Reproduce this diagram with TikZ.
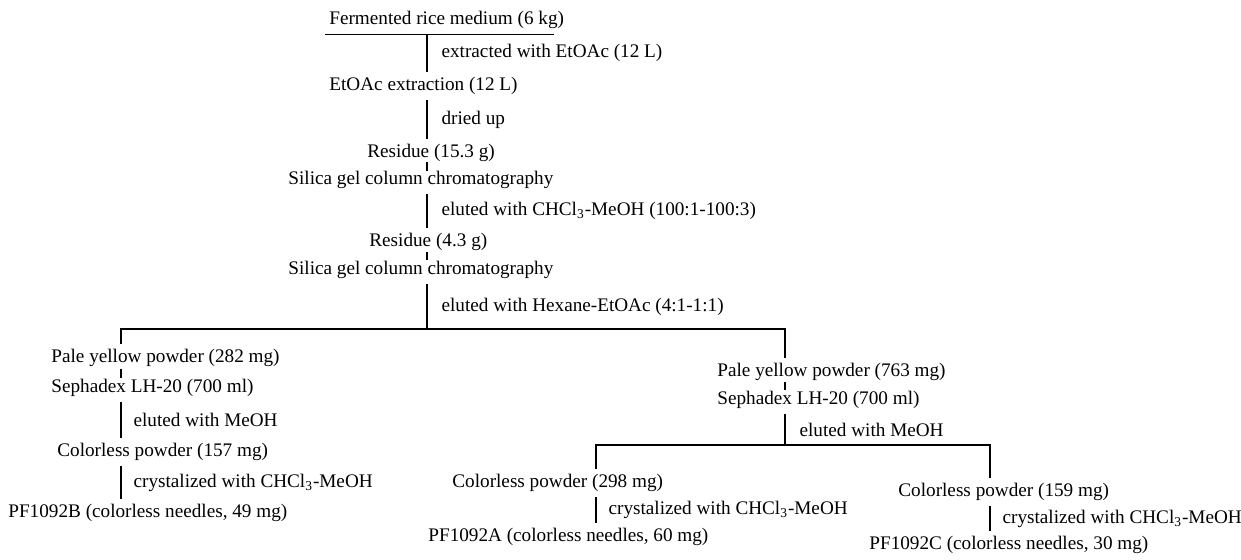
\documentclass[tikz,border=0pt]{standalone}
\usepackage{fontspec}
\setmainfont{Liberation Serif}
\usetikzlibrary{positioning, calc}

\begin{document}
\begin{tikzpicture}[
  x=0.5pt, y=-0.5pt,
  stage/.style = {anchor=west, inner xsep=0pt, inner ysep=2.5pt, font=\fontsize{9.6}{11.5}\selectfont},
  cond/.style  = {anchor=west, inner sep=0pt, xshift=7pt, font=\fontsize{9.6}{11.5}\selectfont},
  link/.style  = {line width=0.6pt},
  tick/.style  = {line width=0.6pt, shorten <=-1.8pt, shorten >=-1.8pt}
]
  \useasboundingbox (0,0) rectangle (1241,559);

  % main column
  \node[stage] (ferm) at (329,20)  {Fermented rice medium (6 kg)};
  \node[stage] (extr) at (329,86)  {EtOAc extraction (12 L)};
  \node[stage] (res1) at (367,153) {Residue (15.3 g)};
  \node[stage] (sil1) at (288,180) {Silica gel column chromatography};
  \node[stage] (res2) at (369,242) {Residue (4.3 g)};
  \node[stage] (sil2) at (288,270) {Silica gel column chromatography};

  \coordinate (spine) at (427,0);
  \coordinate (brL) at (121,329);
  \coordinate (brR) at (785,329);

  % left branch
  \node[stage] (pale1)  at (51,358) {Pale yellow powder (282 mg)};
  \node[stage] (seph1)  at (51,388) {Sephadex LH-20 (700 ml)};
  \node[stage] (col157) at (57,452) {Colorless powder (157 mg)};
  \node[stage] (pfB)    at (8,513)  {PF1092B (colorless needles, 49 mg)};

  % right branch
  \node[stage] (pale2)  at (717,372) {Pale yellow powder (763 mg)};
  \node[stage] (seph2)  at (717,400) {Sephadex LH-20 (700 ml)};
  \coordinate (sub)  at (785,445);
  \coordinate (subL) at (596,445);
  \coordinate (subR) at (990,445);
  \node[stage] (col298) at (452,483) {Colorless powder (298 mg)};
  \node[stage] (pfA)    at (428,537) {PF1092A (colorless needles, 60 mg)};
  \node[stage] (col159) at (898,492) {Colorless powder (159 mg)};
  \node[stage] (pfC)    at (869,545) {PF1092C (colorless needles, 30 mg)};

  % underline of the start material
  \draw[link] ($(ferm.south west)+(-4,0)$) -- ($(ferm.south east)+(-10,0)$);

  % main column links
  \draw[link] (ferm.south -| spine) -- node[cond] {extracted with EtOAc (12 L)} (extr.north -| spine);
  \draw[link] (extr.south -| spine) -- node[cond] {dried up} (res1.north -| spine);
  \draw[tick] (res1.south -| spine) -- (sil1.north -| spine);
  \draw[link] (sil1.south -| spine) -- node[cond] {eluted with CHCl\textsubscript{3}-MeOH (100:1-100:3)} (res2.north -| spine);
  \draw[tick] (res2.south -| spine) -- (sil2.north -| spine);
  \draw[link] (sil2.south -| spine) -- node[cond] {eluted with Hexane-EtOAc (4:1-1:1)} (spine |- brL);

  % split into two fractions
  \draw[link] (pale1.north -| brL) -- (brL) -- (brR) -- (pale2.north -| brR);

  % left fraction
  \draw[tick] (pale1.south -| brL) -- (seph1.north -| brL);
  \draw[link] (seph1.south -| brL) -- node[cond, xshift=-1pt] {eluted with MeOH} (col157.north -| brL);
  \draw[link] (col157.south -| brL) -- node[cond, xshift=-1pt] {crystalized with CHCl\textsubscript{3}-MeOH} (pfB.north -| brL);

  % right fraction
  \draw[tick] (pale2.south -| brR) -- (seph2.north -| brR);
  \draw[link] (seph2.south -| brR) -- node[cond] {eluted with MeOH} (sub);
  \draw[link] (col298.north -| subL) -- (subL) -- (subR) -- (col159.north -| subR);
  \draw[link] (col298.south -| subL) -- node[cond, xshift=-1pt] {crystalized with CHCl\textsubscript{3}-MeOH} (pfA.north -| subL);
  \draw[link] (col159.south -| subR) -- node[cond, xshift=-1pt] {crystalized with CHCl\textsubscript{3}-MeOH} (pfC.north -| subR);

\end{tikzpicture}
\end{document}
